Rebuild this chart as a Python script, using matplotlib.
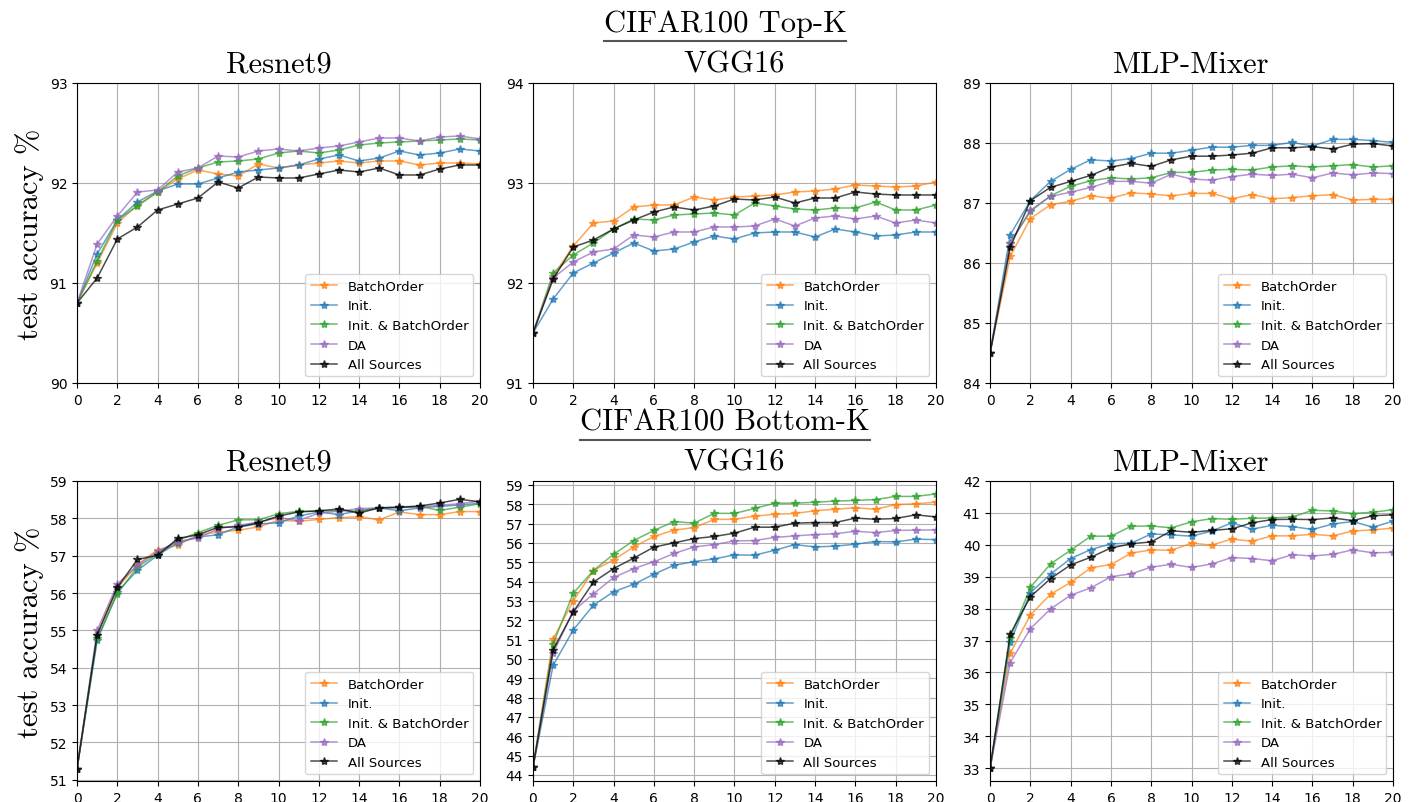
import matplotlib
matplotlib.use("Agg")
import matplotlib.pyplot as plt
from matplotlib.lines import Line2D

epochs = list(range(21))
methods = ["BatchOrder", "Init.", "Init. & BatchOrder", "DA", "All Sources"]
colors = ["tab:orange", "tab:blue", "tab:green", "tab:purple", "black"]
models = ["Resnet9", "VGG16", "MLP-Mixer"]

# CIFAR100, top-K
top_resnet9 = [
    [90.8, 91.2, 91.6, 91.78, 91.91, 92.04, 92.13, 92.09, 92.07, 92.19, 92.15,
     92.18, 92.2, 92.22, 92.2, 92.22, 92.22, 92.18, 92.2, 92.2, 92.19],
    [90.8, 91.29, 91.63, 91.81, 91.92, 91.99, 91.99, 92.05, 92.11, 92.13, 92.15,
     92.18, 92.24, 92.28, 92.22, 92.25, 92.32, 92.28, 92.3, 92.34, 92.32],
    [90.8, 91.22, 91.63, 91.77, 91.91, 92.07, 92.15, 92.21, 92.22, 92.24, 92.3,
     92.32, 92.3, 92.33, 92.38, 92.4, 92.41, 92.42, 92.43, 92.44, 92.43],
    [90.8, 91.39, 91.67, 91.91, 91.93, 92.11, 92.15, 92.27, 92.26, 92.32, 92.34,
     92.32, 92.35, 92.37, 92.41, 92.45, 92.45, 92.42, 92.46, 92.47, 92.44],
    [90.8, 91.05, 91.44, 91.56, 91.73, 91.79, 91.85, 92.01, 91.95, 92.06, 92.05,
     92.05, 92.09, 92.13, 92.11, 92.15, 92.08, 92.08, 92.14, 92.18, 92.18],
]
top_vgg16 = [
    [91.5, 92.07, 92.37, 92.6, 92.62, 92.76, 92.78, 92.78, 92.86, 92.83, 92.86,
     92.87, 92.88, 92.91, 92.92, 92.94, 92.98, 92.97, 92.96, 92.97, 93.01],
    [91.5, 91.84, 92.1, 92.2, 92.3, 92.4, 92.32, 92.34, 92.41, 92.47, 92.44,
     92.5, 92.51, 92.51, 92.46, 92.54, 92.51, 92.47, 92.48, 92.51, 92.51],
    [91.5, 92.1, 92.28, 92.4, 92.54, 92.64, 92.63, 92.68, 92.69, 92.7, 92.68,
     92.8, 92.77, 92.74, 92.73, 92.75, 92.75, 92.81, 92.73, 92.73, 92.78],
    [91.5, 92.05, 92.21, 92.31, 92.34, 92.48, 92.46, 92.51, 92.51, 92.56, 92.56,
     92.57, 92.64, 92.57, 92.65, 92.67, 92.64, 92.67, 92.6, 92.63, 92.6],
    [91.5, 92.04, 92.36, 92.43, 92.54, 92.63, 92.71, 92.76, 92.73, 92.77, 92.84,
     92.83, 92.86, 92.8, 92.85, 92.85, 92.91, 92.89, 92.88, 92.88, 92.88],
]
top_mixer = [
    [84.5, 86.11, 86.74, 86.97, 87.03, 87.12, 87.08, 87.17, 87.15, 87.12, 87.16,
     87.16, 87.07, 87.14, 87.07, 87.09, 87.12, 87.14, 87.05, 87.06, 87.06],
    [84.5, 86.47, 87.04, 87.36, 87.56, 87.72, 87.7, 87.74, 87.83, 87.83, 87.88,
     87.93, 87.93, 87.96, 87.96, 88.01, 87.95, 88.06, 88.06, 88.04, 88.01],
    [84.5, 86.34, 86.86, 87.12, 87.28, 87.37, 87.42, 87.4, 87.42, 87.51, 87.51,
     87.55, 87.56, 87.55, 87.6, 87.62, 87.6, 87.62, 87.64, 87.6, 87.62],
    [84.5, 86.33, 86.88, 87.11, 87.18, 87.26, 87.36, 87.36, 87.33, 87.48, 87.4,
     87.38, 87.44, 87.48, 87.46, 87.48, 87.42, 87.5, 87.47, 87.5, 87.49],
    [84.5, 86.26, 87.04, 87.26, 87.36, 87.46, 87.6, 87.66, 87.61, 87.72, 87.78,
     87.78, 87.8, 87.83, 87.92, 87.92, 87.94, 87.9, 87.98, 87.99, 87.95],
]

# CIFAR100, bottom-K
bottom_resnet9 = [
    [51.3, 54.88, 56.14, 56.76, 57.16, 57.28, 57.56, 57.63, 57.68, 57.77, 57.95,
     57.92, 57.97, 58.02, 58.04, 57.96, 58.17, 58.1, 58.1, 58.18, 58.18],
    [51.3, 54.73, 56.03, 56.61, 57.01, 57.35, 57.5, 57.56, 57.77, 57.85, 57.88,
     58.06, 58.17, 58.1, 58.2, 58.28, 58.2, 58.28, 58.32, 58.36, 58.4],
    [51.3, 54.79, 55.98, 56.7, 57.05, 57.41, 57.62, 57.81, 57.96, 57.96, 58.12,
     58.19, 58.19, 58.21, 58.19, 58.28, 58.31, 58.32, 58.21, 58.3, 58.39],
    [51.3, 55.0, 56.24, 56.74, 57.12, 57.38, 57.47, 57.72, 57.81, 57.9, 58.02,
     57.94, 58.14, 58.19, 58.26, 58.28, 58.29, 58.3, 58.35, 58.39, 58.46],
    [51.3, 54.89, 56.15, 56.9, 57.01, 57.46, 57.56, 57.76, 57.77, 57.88, 58.06,
     58.17, 58.2, 58.25, 58.14, 58.28, 58.29, 58.33, 58.41, 58.51, 58.44],
]
bottom_vgg16 = [
    [44.4, 51.03, 53.0, 54.57, 55.12, 55.79, 56.33, 56.66, 56.79, 57.21, 57.22,
     57.38, 57.48, 57.52, 57.66, 57.74, 57.81, 57.74, 57.98, 58.02, 58.1],
    [44.4, 49.67, 51.5, 52.78, 53.47, 53.86, 54.38, 54.84, 55.03, 55.17, 55.38,
     55.36, 55.62, 55.91, 55.79, 55.83, 55.93, 56.07, 56.05, 56.19, 56.17],
    [44.4, 50.78, 53.4, 54.57, 55.41, 56.12, 56.64, 57.1, 57.02, 57.53, 57.52,
     57.78, 58.05, 58.05, 58.1, 58.16, 58.19, 58.24, 58.4, 58.4, 58.53],
    [44.4, 50.29, 52.48, 53.36, 54.21, 54.67, 55.02, 55.45, 55.79, 55.91, 56.1,
     56.12, 56.28, 56.36, 56.43, 56.47, 56.6, 56.53, 56.64, 56.66, 56.67],
    [44.4, 50.47, 52.43, 53.97, 54.67, 55.21, 55.78, 56.0, 56.22, 56.33, 56.5,
     56.81, 56.81, 57.02, 57.05, 57.05, 57.28, 57.22, 57.26, 57.45, 57.34],
]
bottom_mixer = [
    [33.0, 36.6, 37.8, 38.45, 38.82, 39.28, 39.38, 39.74, 39.84, 39.83, 40.05,
     39.99, 40.18, 40.11, 40.28, 40.28, 40.33, 40.28, 40.43, 40.47, 40.52],
    [33.0, 36.94, 38.5, 39.08, 39.57, 39.85, 40.03, 40.05, 40.34, 40.31, 40.27,
     40.43, 40.69, 40.49, 40.61, 40.57, 40.48, 40.65, 40.73, 40.55, 40.74],
    [33.0, 37.09, 38.67, 39.4, 39.83, 40.27, 40.27, 40.58, 40.59, 40.53, 40.72,
     40.82, 40.8, 40.83, 40.84, 40.87, 41.08, 41.06, 40.98, 41.02, 41.1],
    [33.0, 36.31, 37.37, 37.99, 38.42, 38.65, 39.0, 39.09, 39.3, 39.39, 39.29,
     39.4, 39.6, 39.57, 39.5, 39.69, 39.65, 39.7, 39.84, 39.75, 39.76],
    [33.0, 37.2, 38.37, 38.94, 39.37, 39.61, 39.9, 40.03, 40.09, 40.44, 40.39,
     40.45, 40.5, 40.69, 40.79, 40.8, 40.79, 40.84, 40.76, 40.91, 40.94],
]

top_results = [top_resnet9, top_vgg16, top_mixer]
bottom_results = [bottom_resnet9, bottom_vgg16, bottom_mixer]
top_ylims = [(90, 93), (91, 94), (84, 89)]
bottom_ylims = [(50.97, 59), (43.69, 59.2), (32.6, 42)]

serif = "cmr10"

fig = plt.figure(figsize=(14.16, 8.03), dpi=100)

col_x = [0.0544, 0.3764, 0.6992]
col_w = 0.2846
rows = [(0.5218, 0.3736), (0.0262, 0.3736)]


def draw_panel(ax, series, ylim, model):
    for vals, name, c in zip(series, methods, colors):
        ax.plot(epochs, vals, marker="*", markersize=6, linewidth=1.1,
                color=c, alpha=0.7, label=name)
    ax.set_xlim(0, 20)
    ax.set_ylim(*ylim)
    ax.set_xticks(range(0, 21, 2))
    ax.yaxis.set_major_locator(matplotlib.ticker.MultipleLocator(1))
    ax.grid(True)
    ax.tick_params(labelsize=10)
    ax.set_title(model, fontfamily=serif, fontsize=22, pad=8)
    ax.legend(loc="lower right", fontsize=9.5)


for r, (results, ylims) in enumerate([(top_results, top_ylims),
                                      (bottom_results, bottom_ylims)]):
    bottom, height = rows[r]
    for c in range(3):
        ax = fig.add_axes([col_x[c], bottom, col_w, height])
        draw_panel(ax, results[c], ylims[c], models[c])
        if c == 0:
            ax.set_ylabel("test accuracy %", fontfamily=serif, fontsize=22)

# group headings with an underline
renderer = fig.canvas.get_renderer()
for label, y in [("CIFAR100 Top-K", 0.97), ("CIFAR100 Bottom-K", 0.473)]:
    t = fig.text(0.512, y, label, fontfamily=serif, fontsize=22,
                 ha="center", va="center")
    bb = t.get_window_extent(renderer).transformed(fig.transFigure.inverted())
    fig.add_artist(Line2D([bb.x0, bb.x1], [bb.y0 - 0.005, bb.y0 - 0.005],
                          color="#555555", linewidth=1.5,
                          transform=fig.transFigure))

fig.savefig("out.png", dpi=100)
